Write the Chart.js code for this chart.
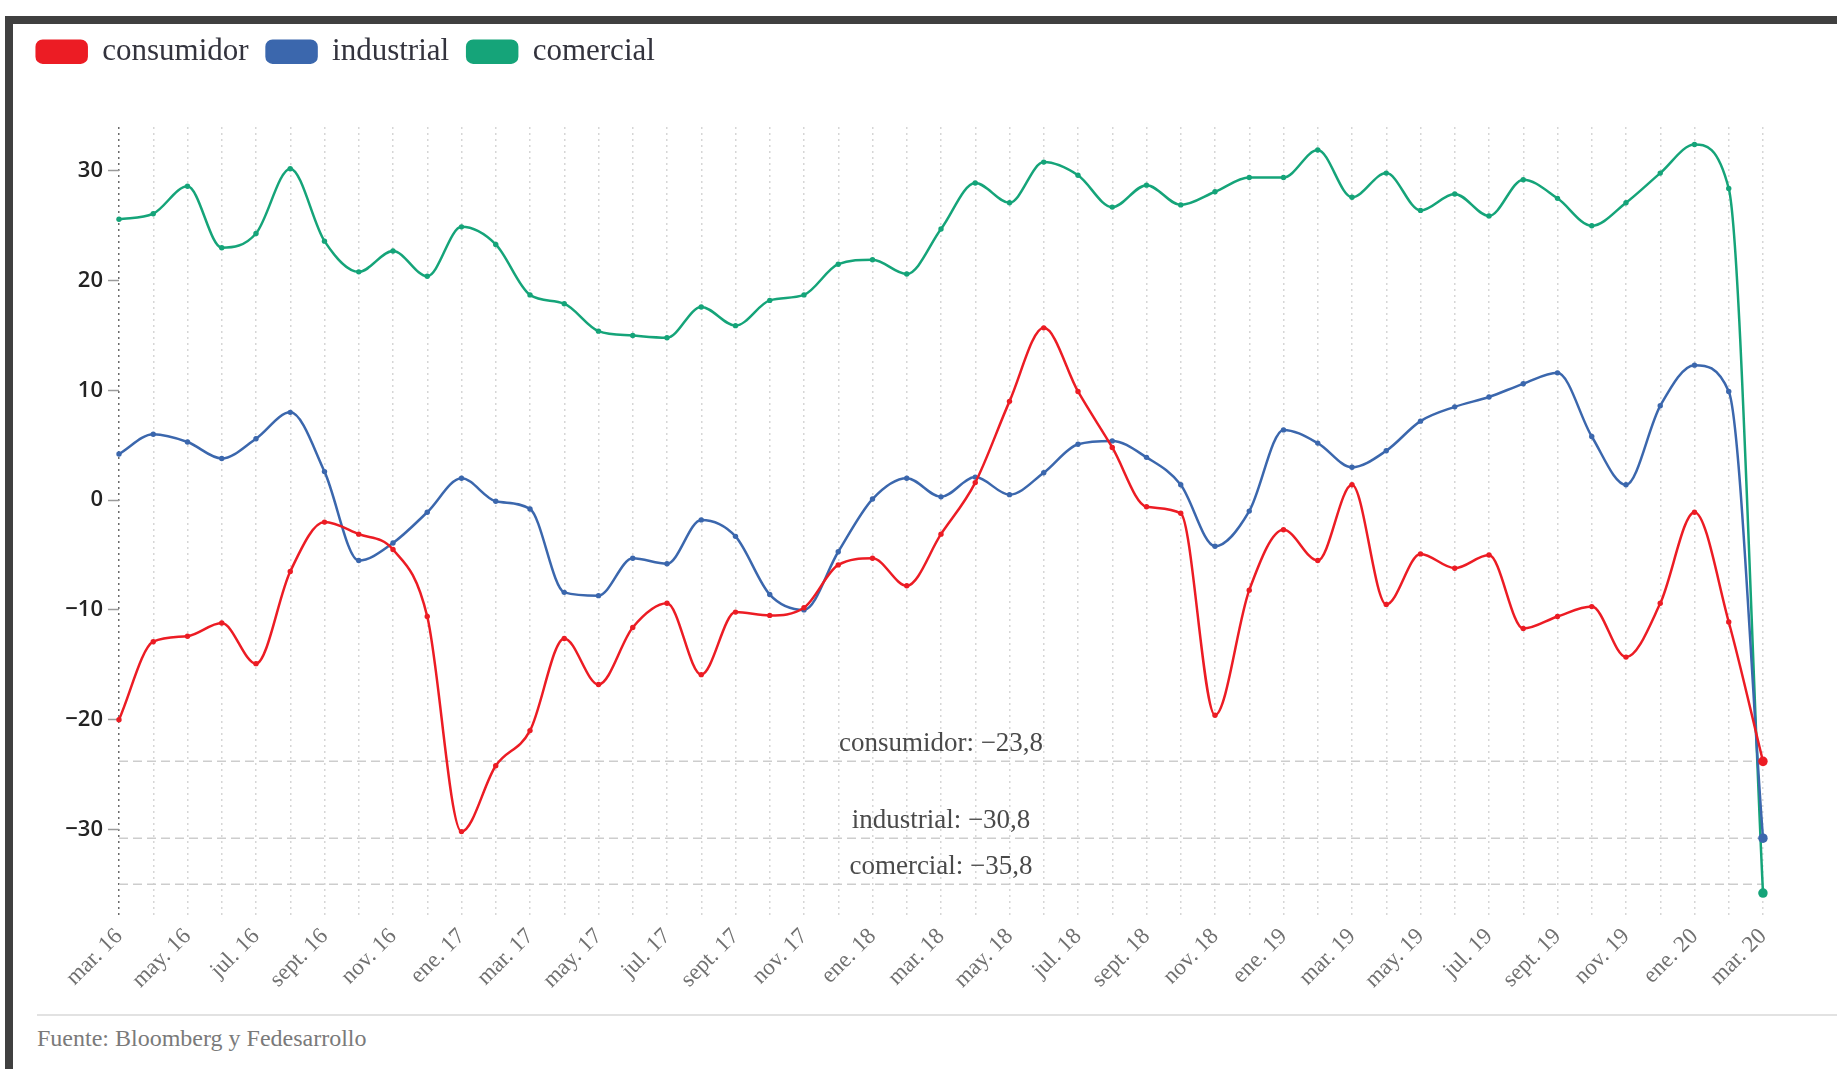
<!DOCTYPE html>
<html><head><meta charset="utf-8">
<script src="https://cdn.jsdelivr.net/npm/chart.js@4/dist/chart.umd.min.js"></script>
<style>
html,body{margin:0;padding:0;background:#fff;width:1837px;height:1069px;overflow:hidden;}
#frame{position:absolute;left:5px;top:16px;width:1900px;height:1100px;border-left:8px solid #404040;border-top:8px solid #404040;box-sizing:border-box;}
#wrap{position:absolute;left:0;top:0;width:1837px;height:1000px;}
#rule{position:absolute;left:37px;top:1014px;width:1800px;height:2px;background:#e2e2e2;}
#src{position:absolute;left:37px;top:1026px;font-family:'Liberation Serif',serif;font-size:24px;line-height:24px;color:#7a7a7a;white-space:nowrap;}
</style></head><body>
<div id="frame"></div>
<div id="wrap"><canvas id="c" width="1837" height="1000"></canvas></div>
<div id="rule"></div>
<div id="src">Fuente: Bloomberg y Fedesarrollo</div>
<script>
const MONTHS = ['mar. 16','abr. 16','may. 16','jun. 16','jul. 16','ago. 16','sept. 16','oct. 16','nov. 16','dic. 16',
  'ene. 17','feb. 17','mar. 17','abr. 17','may. 17','jun. 17','jul. 17','ago. 17','sept. 17','oct. 17','nov. 17','dic. 17',
  'ene. 18','feb. 18','mar. 18','abr. 18','may. 18','jun. 18','jul. 18','ago. 18','sept. 18','oct. 18','nov. 18','dic. 18',
  'ene. 19','feb. 19','mar. 19','abr. 19','may. 19','jun. 19','jul. 19','ago. 19','sept. 19','oct. 19','nov. 19','dic. 19',
  'ene. 20','feb. 20','mar. 20'];

const CONSUMIDOR = [-20.0,-12.9,-12.4,-11.2,-14.9,-6.5,-2.0,-3.1,-4.5,-10.6,
  -30.2,-24.2,-21.0,-12.6,-16.8,-11.6,-9.4,-15.9,-10.2,-10.5,-9.8,-5.9,
  -5.3,-7.8,-3.1,1.6,9.0,15.7,9.9,4.8,-0.6,-1.2,-19.6,-8.2,
  -2.7,-5.5,1.4,-9.5,-4.9,-6.2,-5.0,-11.7,-10.6,-9.7,-14.3,-9.4,
  -1.1,-11.1,-23.8];

const INDUSTRIAL = [4.2,6.0,5.3,3.8,5.6,8.0,2.6,-5.5,-3.9,-1.1,
  2.0,-0.1,-0.8,-8.4,-8.7,-5.3,-5.8,-1.8,-3.3,-8.6,-10.0,-4.7,
  0.1,2.0,0.3,2.1,0.5,2.5,5.1,5.4,3.9,1.4,-4.2,-1.0,
  6.4,5.2,3.0,4.5,7.2,8.5,9.4,10.6,11.6,5.8,1.4,8.6,
  12.3,9.9,-30.8];

const COMERCIAL = [25.6,26.1,28.6,23.0,24.3,30.2,23.6,20.8,22.7,20.4,
  24.9,23.3,18.7,17.9,15.4,15.0,14.8,17.6,15.9,18.2,18.7,21.5,
  21.9,20.6,24.7,28.9,27.1,30.8,29.6,26.7,28.7,26.9,28.1,29.4,
  29.4,31.9,27.6,29.8,26.4,27.9,25.9,29.2,27.5,25.0,27.1,29.8,
  32.4,28.4,-35.8];

const SERIES_NAMES = ['consumidor','industrial','comercial'];
const REF_VALUES = [-23.8, -30.8, -35.0];
const REF_LABELS = ['consumidor: \u221223,8', 'industrial: \u221230,8', 'comercial: \u221235,8'];
const Y_TICK_STEP = 10;

const COLORS = ['#ec1c24', '#3b67ad', '#15a479'];
const LAST = MONTHS.length - 1;

function ds(label, data, color) {
  return {
    label, data,
    borderColor: color, backgroundColor: color,
    pointBackgroundColor: color, pointBorderColor: color,
    borderWidth: 2.5,
    pointRadius: (c) => c.dataIndex === LAST ? 4.8 : 2.7,
    pointBorderWidth: 0,
    cubicInterpolationMode: 'monotone',
    fill: false
  };
}

const legendSpacer = {
  id: 'legendSpacer',
  beforeInit(chart) {
    const lg = chart.legend;
    const orig = lg.fit;
    lg.fit = function () { orig.call(this); this.height = 108.8; };
  }
};

const refLines = {
  id: 'refLines',
  beforeDatasetsDraw(chart) {
    const {ctx, chartArea: a, scales: {y}} = chart;
    ctx.save();
    REF_VALUES.forEach((v, i) => {
      const py = y.getPixelForValue(v);
      ctx.setLineDash([9, 5]);
      ctx.strokeStyle = '#cdcdcd';
      ctx.lineWidth = 1.5;
      ctx.beginPath();
      ctx.moveTo(a.left, py);
      ctx.lineTo(a.right, py);
      ctx.stroke();
      ctx.setLineDash([]);
      ctx.fillStyle = '#4a4a4a';
      ctx.font = "27px 'Liberation Serif'";
      ctx.textAlign = 'center';
      ctx.textBaseline = 'middle';
      ctx.fillText(REF_LABELS[i], (a.left + a.right) / 2, py - 17.5);
    });
    ctx.restore();
  }
};

new Chart(document.getElementById('c'), {
  type: 'line',
  data: {
    labels: MONTHS,
    datasets: [
      ds(SERIES_NAMES[0], CONSUMIDOR, COLORS[0]),
      ds(SERIES_NAMES[1], INDUSTRIAL, COLORS[1]),
      ds(SERIES_NAMES[2], COMERCIAL, COLORS[2])
    ]
  },
  options: {
    responsive: false,
    devicePixelRatio: 1,
    animation: false,
    layout: {padding: {left: 18.7, top: 18.2, right: 74, bottom: 0}},
    plugins: {
      legend: {
        position: 'top', align: 'start',
        labels: {
          boxWidth: 50, boxHeight: 22, useBorderRadius: true, borderRadius: 6,
          padding: 18, color: '#33333d',
          font: {family: 'Liberation Serif', size: 31}
        }
      },
      tooltip: {enabled: false}
    },
    scales: {
      x: {
        grid: {
          color: (c) => c.index === 0 ? '#6a6a6a' : '#d6d6d6',
          lineWidth: 1.5,
          drawTicks: false
        },
        border: {display: false, dash: [2, 4]},
        ticks: {
          autoSkip: false, maxRotation: 45, minRotation: 45,
          padding: 8,
          color: '#707070',
          font: {family: 'Liberation Serif', size: 23},
          callback: (v, i) => (i % 2 === 0 ? MONTHS[i] : '')
        },
        afterFit: (s) => { s.height = 85; }
      },
      y: {
        min: -37.8, max: 34.0,
        grid: {drawOnChartArea: false, drawTicks: true, tickLength: 11, tickColor: '#9a9a9a', tickWidth: 1.5},
        border: {display: false},
        ticks: {
          stepSize: Y_TICK_STEP, includeBounds: false, padding: 5,
          color: '#222',
          font: {family: 'Open Sans', size: 22, weight: '600'},
          callback: (v) => String(v).replace('-', '\u2212')
        },
        afterFit: (s) => { s.width = 100.3; }
      }
    }
  },
  plugins: [legendSpacer, refLines]
});
</script>
</body></html>
